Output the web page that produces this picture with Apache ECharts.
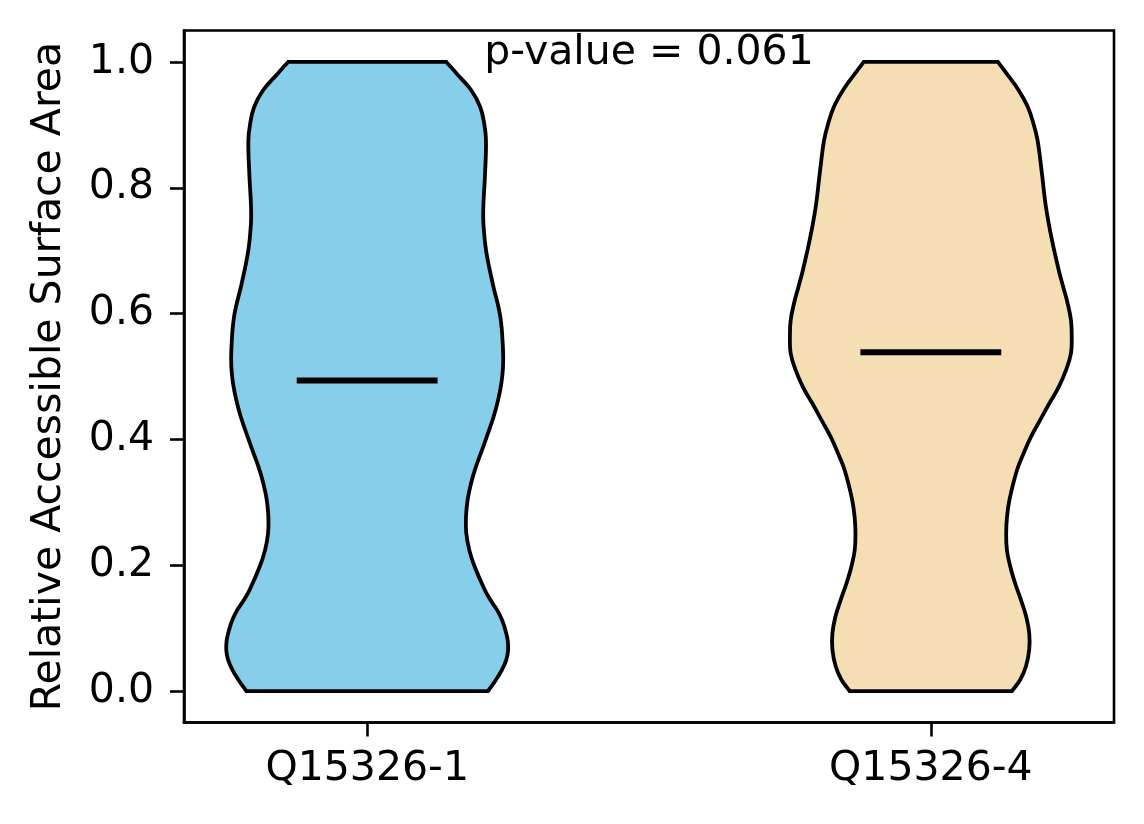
<!DOCTYPE html>
<html><head><meta charset="utf-8">
<script src="https://cdn.jsdelivr.net/npm/echarts@6/dist/echarts.min.js"></script>
<style>html,body{margin:0;padding:0;background:#fff}#c{width:1144px;height:824px}</style>
</head><body><div id="c"></div>
<script>
// ---- data ----
const categories = ['Q15326-1', 'Q15326-4'];
const positions = [1, 2];
const yTicks = [0, 0.2, 0.4, 0.6, 0.8, 1.0];
const medians = [0.4937, 0.5386];
const pValueText = 'p-value = 0.061';
const fillColors = ['#87CEEB', '#F5DEB3'];

// violin 1 profile: y value (top -> bottom) and half-width in x-axis units
const v1Y = [1.000, 0.981, 0.955, 0.928, 0.901, 0.875, 0.822, 0.769, 0.743, 0.700, 0.648, 0.595, 0.542, 0.515, 0.489, 0.462, 0.436, 0.410, 0.383, 0.357, 0.330, 0.304, 0.277, 0.251, 0.224, 0.198, 0.161, 0.145, 0.129, 0.113, 0.097, 0.081, 0.065, 0.050, 0.034, 0.018, 0.000];
const v1W = [0.1403, 0.1593, 0.1847, 0.2007, 0.2078, 0.2108, 0.2091, 0.2060, 0.2062, 0.2110, 0.2226, 0.2362, 0.2410, 0.2410, 0.2380, 0.2321, 0.2243, 0.2144, 0.2037, 0.1931, 0.1842, 0.1782, 0.1753, 0.1758, 0.1812, 0.1906, 0.2085, 0.2185, 0.2304, 0.2393, 0.2451, 0.2492, 0.2500, 0.2469, 0.2393, 0.2286, 0.2144];

// violin 2 profile
const v2Y = [1.000, 0.981, 0.955, 0.928, 0.901, 0.875, 0.822, 0.769, 0.717, 0.669, 0.642, 0.616, 0.589, 0.563, 0.537, 0.510, 0.483, 0.457, 0.431, 0.404, 0.378, 0.351, 0.304, 0.277, 0.251, 0.224, 0.198, 0.171, 0.145, 0.118, 0.092, 0.066, 0.039, 0.018, 0.000];
const v2W = [0.1190, 0.1350, 0.1558, 0.1723, 0.1824, 0.1895, 0.1972, 0.2043, 0.2149, 0.2270, 0.2350, 0.2428, 0.2487, 0.2500, 0.2487, 0.2398, 0.2268, 0.2101, 0.1941, 0.1776, 0.1647, 0.1528, 0.1395, 0.1352, 0.1337, 0.1350, 0.1409, 0.1497, 0.1599, 0.1693, 0.1746, 0.1746, 0.1687, 0.1586, 0.1439];

const profiles = [{y: v1Y, w: v1W}, {y: v2Y, w: v2W}];
const medianHalf = 0.125;

const FONT = 'DejaVu Sans';
const FS = 41;

const chart = echarts.init(document.getElementById('c'), null, {renderer: 'canvas'});

function renderViolin(params, api) {
  const i = params.dataIndex;
  const c = api.value(0);
  const ys = profiles[i].y, ws = profiles[i].w;
  const n = ys.length;
  const left = ys.map((y, k) => api.coord([c - ws[k], y]));
  const right = [];
  for (let k = n - 1; k >= 0; k--) right.push(api.coord([c + ws[k], ys[k]]));
  // corner points doubled so top/bottom edges stay straight with sharp corners
  const pts = [left[0]].concat(left, [left[n - 1], right[0]], right, [right[n - 1]]);
  const m0 = api.coord([c - medianHalf, medians[i]]);
  const m1 = api.coord([c + medianHalf, medians[i]]);
  return {
    type: 'group',
    children: [
      {
        type: 'polygon',
        shape: {points: pts, smooth: 0.4},
        style: {fill: fillColors[i], stroke: '#000', lineWidth: 3.8, lineJoin: 'miter'}
      },
      {
        type: 'line',
        shape: {x1: m0[0], y1: m0[1], x2: m1[0], y2: m1[1]},
        style: {stroke: '#000', lineWidth: 6}
      }
    ]
  };
}

chart.setOption({
  animation: false,
  backgroundColor: '#fff',
  grid: {left: 184, top: 30.5, right: 30, bottom: 101.5, show: true, borderColor: '#000', borderWidth: 2.6, backgroundColor: 'transparent'},
  xAxis: {
    type: 'value', min: 0.675, max: 2.325,
    splitLine: {show: false},
    axisLine: {show: true, onZero: false, lineStyle: {color: '#000', width: 2.6}},
    axisTick: {show: true, inside: false, length: 14, lineStyle: {color: '#000', width: 2.6}, customValues: positions},
    axisLabel: {
      show: true, customValues: positions, margin: 26, color: '#000', fontFamily: FONT, fontSize: FS,
      formatter: v => categories[Math.round(v) - 1]
    }
  },
  yAxis: {
    type: 'value', min: -0.05, max: 1.05,
    name: 'Relative Accessible Surface Area', nameLocation: 'middle', nameGap: 114,
    nameTextStyle: {color: '#000', fontFamily: FONT, fontSize: FS},
    splitLine: {show: false},
    axisLine: {show: true, onZero: false, lineStyle: {color: '#000', width: 2.6}},
    axisTick: {show: true, inside: false, length: 14, lineStyle: {color: '#000', width: 2.6}, customValues: yTicks},
    axisLabel: {
      show: true, customValues: yTicks, margin: 30, color: '#000', fontFamily: FONT, fontSize: FS,
      formatter: v => Number(v).toFixed(1)
    }
  },
  graphic: [{
    type: 'text', x: 649, y: 53, z: 100,
    style: {text: pValueText, fill: '#000', fontFamily: FONT, fontSize: FS, align: 'center', verticalAlign: 'middle'}
  }],
  series: [{
    type: 'custom',
    renderItem: renderViolin,
    data: positions.map(p => [p, 0]),
    encode: {x: 0, y: 1},
    clip: false
  }]
});
</script>
</body></html>
